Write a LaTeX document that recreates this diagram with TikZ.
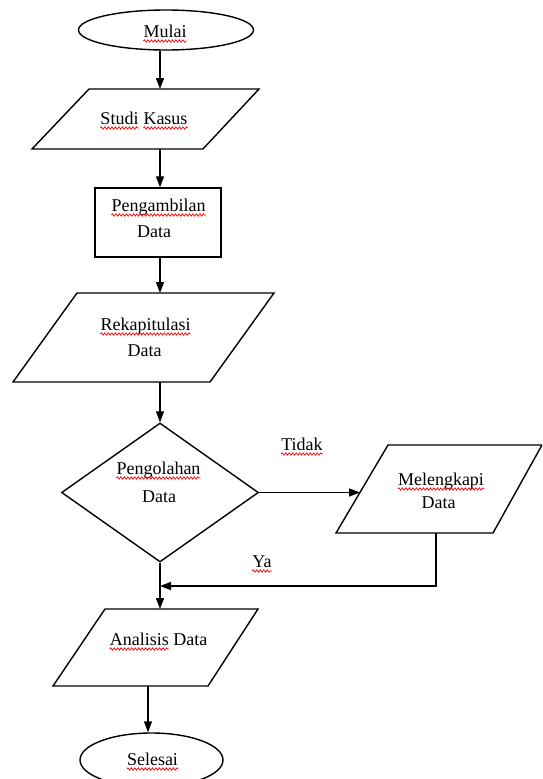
\documentclass[tikz,border=0pt]{standalone}
\usepackage{fontspec}
\setmainfont{Liberation Serif}
\usetikzlibrary{arrows.meta,shapes.geometric,decorations.pathmorphing}
\newcommand\wv[1]{\draw[wav] ([yshift=-4pt]#1.base west) -- ([yshift=-4pt]#1.base east);}
\begin{document}
\begin{tikzpicture}[x=1pt,y=-1pt,
  shp/.style={draw=black,line width=1.4pt,line join=miter},
  arr/.style={line width=1.4pt,-{Triangle[length=11pt,width=8pt]}},
  txt/.style={font=\fontsize{18}{25}\selectfont,inner sep=0pt,anchor=base},
  wav/.style={draw=red,line width=0.7pt,decorate,decoration={snake,amplitude=1.2pt,segment length=3.5pt}}]
\useasboundingbox (0,0) rectangle (542,779);
\clip (0,0) rectangle (542,779);

% Mulai
\node[shp,ellipse,minimum width=175pt,minimum height=40pt,inner sep=0pt] (mulai) at (166,30) {};
\node[txt] (mulait) at (165,37) {Mulai};

% Studi Kasus
\coordinate (sk1) at (89,89);
\coordinate (sk2) at (259,89);
\coordinate (sk3) at (203,149);
\coordinate (sk4) at (32,149);
\draw[shp] (sk1) -- (sk2) -- (sk3) -- (sk4) -- cycle;
\node[txt] (skline) at (144,124) {\phantom{Studi\hspace{5pt}Kasus}};
\node[txt,anchor=base west] (ska) at (skline.base west) {Studi};
\node[txt,anchor=base east] (skb) at (skline.base east) {Kasus};
\coordinate (skT) at (160,89);
\coordinate (skB) at (160,149);
\draw[arr] (mulai.south -| skT) -- (skT);

% Pengambilan Data
\node[shp,rectangle,minimum width=126pt,minimum height=69pt,inner sep=0pt] (pd) at (158,222.5) {};
\node[txt] (pda) at (158.5,211) {Pengambilan};
\node[txt] (pdb) at (154,237) {Data};
\draw[arr] (skB) -- (skB |- pd.north);

% Rekapitulasi Data
\coordinate (rk1) at (77,293);
\coordinate (rk2) at (274,293);
\coordinate (rk3) at (210,382);
\coordinate (rk4) at (13,382);
\draw[shp] (rk1) -- (rk2) -- (rk3) -- (rk4) -- cycle;
\node[txt] (rka) at (145.5,330) {Rekapitulasi};
\node[txt] (rkb) at (144.5,356) {Data};
\coordinate (rkT) at (160,293);
\coordinate (rkB) at (160,382);
\draw[arr] (skB |- pd.south) -- (rkT);

% Pengolahan Data
\node[shp,diamond,minimum width=197pt,minimum height=139pt,inner sep=0pt] (dec) at (160,492.5) {};
\node[txt] (deca) at (158.5,474) {Pengolahan};
\node[txt] (decb) at (159,502) {Data};
\draw[arr] (rkB) -- (dec.north);

% Melengkapi Data
\coordinate (ml1) at (388,445);
\coordinate (ml2) at (542,445);
\coordinate (ml3) at (493,533);
\coordinate (ml4) at (336,533);
\draw[shp] (ml1) -- (ml2) -- (ml3) -- (ml4) -- cycle;
\node[txt] (mla) at (441,485) {Melengkapi};
\node[txt] (mlb) at (438.5,508) {Data};
\coordinate (mlL) at (360,492.5);
\coordinate (mlB) at (436,533);
\draw[arr] (dec.east) -- (mlL);

\coordinate (join) at (160,586);
\draw[arr] (mlB) |- (join);

\node[txt] (tidak) at (302,450) {Tidak};
\node[txt] (ya) at (262,567) {Ya};

% Analisis Data
\coordinate (an1) at (105,609);
\coordinate (an2) at (258,609);
\coordinate (an3) at (208,686);
\coordinate (an4) at (53,686);
\draw[shp] (an1) -- (an2) -- (an3) -- (an4) -- cycle;
\node[txt] (anline) at (158.5,645) {\phantom{Analisis Data}};
\node[txt,anchor=base west] (ana) at (anline.base west) {Analisis};
\node[txt,anchor=base east] (anb) at (anline.base east) {Data};
\coordinate (anT) at (160,609);
\coordinate (anB) at (148,686);
\draw[arr] (dec.south) -- (anT);

% Selesai
\node[shp,ellipse,minimum width=143pt,minimum height=54pt,inner sep=0pt] (sel) at (151.5,760) {};
\node[txt] (selt) at (152.5,765) {Selesai};
\draw[arr] (anB) -- (anB |- sel.north);

% spell-check underlines
\wv{mulait}
\wv{ska}
\wv{skb}
\wv{pda}
\wv{rka}
\wv{deca}
\wv{mla}
\wv{tidak}
\wv{ya}
\wv{ana}
\wv{selt}
\end{tikzpicture}
\end{document}
